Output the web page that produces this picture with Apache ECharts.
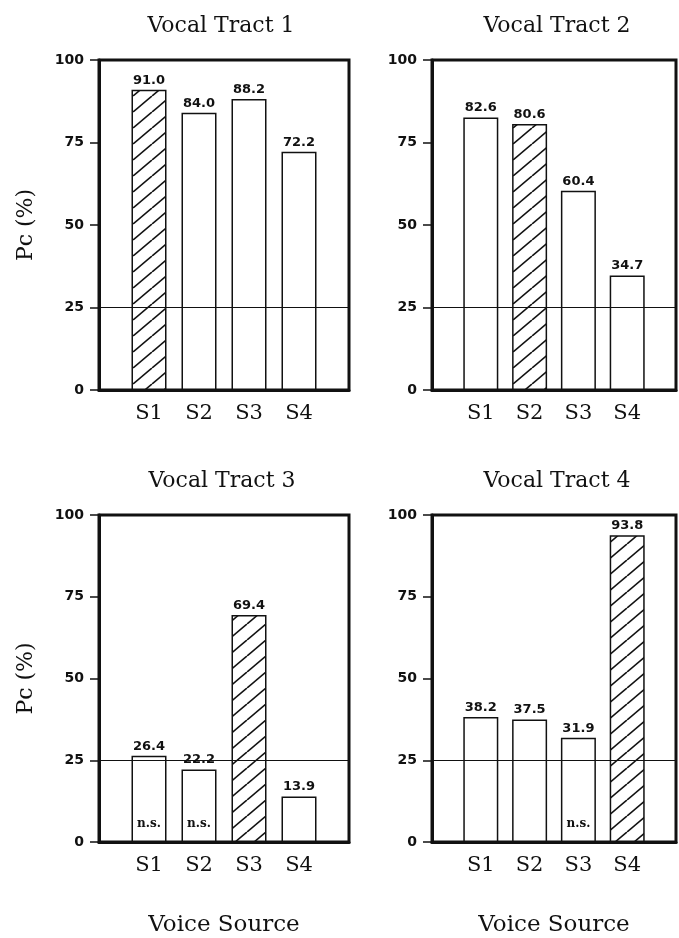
<!DOCTYPE html>
<html>
<head>
<meta charset="utf-8">
<script src="https://cdn.jsdelivr.net/npm/echarts@6/dist/echarts.min.js"></script>
<style>
  html, body { margin: 0; padding: 0; background: #fff; }
  #chart { width: 679px; height: 938px; }
</style>
</head>
<body>
<div id="chart"></div>
<script>
// ---- data ----
const categories = ['', 'S1', 'S2', 'S3', 'S4', ''];
const panelTitles = ['Vocal Tract 1', 'Vocal Tract 2', 'Vocal Tract 3', 'Vocal Tract 4'];
const vt1Values = [91.0, 84.0, 88.2, 72.2];
const vt2Values = [82.6, 80.6, 60.4, 34.7];
const vt3Values = [26.4, 22.2, 69.4, 13.9];
const vt4Values = [38.2, 37.5, 31.9, 93.8];
const hatchedIndex = [0, 1, 2, 3];           // matching source per vocal tract
const nsFlags = [
  [false, false, false, false],
  [false, false, false, false],
  [true, true, false, false],
  [false, false, true, false]
];
const yTicks = [0, 25, 50, 75, 100];
const chanceLevel = 25;
const yAxisTitle = 'Pc (%)';
const xAxisTitle = 'Voice Source';
const nsText = 'n.s.';

const panelValues = [vt1Values, vt2Values, vt3Values, vt4Values];

// ---- hatch pattern ----
function makeHatch() {
  const w = 19, h = 16;
  const c = document.createElement('canvas');
  c.width = w; c.height = h;
  const ctx = c.getContext('2d');
  ctx.fillStyle = '#fff';
  ctx.fillRect(0, 0, w, h);
  ctx.strokeStyle = '#111';
  ctx.lineWidth = 1.6;
  for (let k = -1; k <= 1; k++) {
    ctx.beginPath();
    ctx.moveTo(k * w, h);
    ctx.lineTo(k * w + w, 0);
    ctx.stroke();
  }
  return c;
}
const hatch = { image: makeHatch(), repeat: 'repeat' };

// ---- layout ----
const gridsPos = [
  { left: 99, top: 60, width: 250, height: 330 },
  { left: 432, top: 60, width: 256, height: 330 },
  { left: 99, top: 515, width: 250, height: 331 },
  { left: 432, top: 515, width: 256, height: 331 }
];
const titleCenters = [221, 557, 222, 557];
const serif = '"DejaVu Serif", "Liberation Serif", serif';
const sans = '"DejaVu Sans", "Liberation Sans", sans-serif';
const ink = '#111';

const grid = [], xAxis = [], yAxis = [], series = [], title = [];

gridsPos.forEach((g, i) => {
  grid.push(Object.assign({ show: true, borderColor: ink, borderWidth: 3, backgroundColor: 'transparent', containLabel: false }, g));
  title.push({
    text: panelTitles[i],
    left: titleCenters[i] - 5,
    top: g.top - 50,
    textAlign: 'center',
    textStyle: { fontFamily: serif, fontSize: 22, fontWeight: 'normal', color: ink }
  });
  const isBottom = i >= 2;
  const isLeft = i % 2 === 0;
  xAxis.push({
    type: 'category',
    gridIndex: i,
    data: categories,
    boundaryGap: false,
    axisLine: { show: true, lineStyle: { color: ink, width: 3 } },
    axisTick: { show: false },
    axisLabel: { interval: 0, margin: 13, fontFamily: serif, fontSize: 21, color: ink },
    splitLine: { show: false },
    name: isBottom ? xAxisTitle : '',
    nameLocation: 'middle',
    nameGap: 72,
    nameTextStyle: { fontFamily: serif, fontSize: 23, color: ink }
  });
  yAxis.push({
    type: 'value',
    gridIndex: i,
    min: yTicks[0],
    max: yTicks[yTicks.length - 1],
    interval: yTicks[1] - yTicks[0],
    axisLine: { show: true, lineStyle: { color: ink, width: 3 } },
    axisTick: { show: true, length: 9, lineStyle: { color: ink, width: 1.5 } },
    axisLabel: { margin: 15, fontFamily: sans, fontSize: 14, fontWeight: 'bold', color: ink },
    splitLine: { show: false },
    name: isLeft ? yAxisTitle : '',
    nameLocation: 'middle',
    nameRotate: 90,
    nameGap: 62,
    nameTextStyle: { fontFamily: serif, fontSize: 22, color: ink }
  });

  const vals = panelValues[i];
  series.push({
    type: 'bar',
    xAxisIndex: i,
    yAxisIndex: i,
    barWidth: 35,
    barGap: '-100%',
    data: categories.map((c, k) => {
      if (k === 0 || k === categories.length - 1) return '-';
      const idx = k - 1;
      return {
        value: vals[idx],
        itemStyle: {
          color: idx === hatchedIndex[i] ? hatch : '#fff',
          borderColor: ink,
          borderWidth: 1.5
        }
      };
    }),
    label: {
      show: true,
      position: 'top',
      distance: 3,
      fontFamily: sans,
      fontSize: 13,
      fontWeight: 'bold',
      color: ink,
      formatter: p => Number(p.value).toFixed(1)
    },
    markLine: {
      silent: true,
      symbol: 'none',
      z: 10,
      label: { show: false },
      lineStyle: { color: ink, width: 1, type: 'solid' },
      data: [{ yAxis: chanceLevel }]
    },
    animation: false
  });
  series.push({
    type: 'bar',
    xAxisIndex: i,
    yAxisIndex: i,
    barWidth: 35,
    barGap: '-100%',
    z: 5,
    data: categories.map((c, k) => {
      if (k === 0 || k === categories.length - 1) return '-';
      const idx = k - 1;
      return nsFlags[i][idx] ? vals[idx] : '-';
    }),
    itemStyle: { color: 'rgba(0,0,0,0)', borderWidth: 0 },
    label: {
      show: true,
      position: 'insideBottom',
      distance: 12,
      fontFamily: serif,
      fontSize: 12,
      fontWeight: 'bold',
      color: ink,
      formatter: () => nsText
    },
    animation: false
  });
});

const chart = echarts.init(document.getElementById('chart'), null, { renderer: 'canvas' });
chart.setOption({
  backgroundColor: '#fff',
  animation: false,
  title, grid, xAxis, yAxis, series
});
</script>
</body>
</html>
